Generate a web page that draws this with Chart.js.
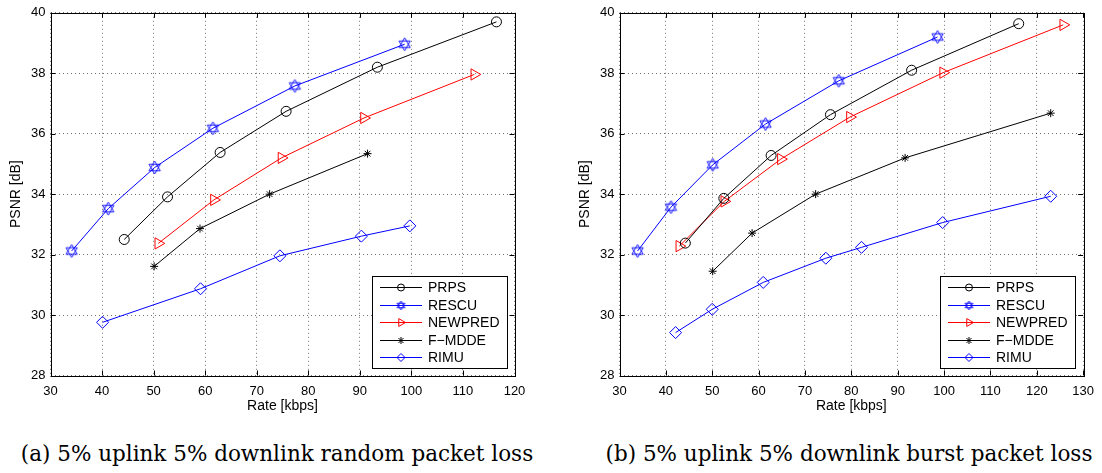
<!DOCTYPE html>
<html>
<head>
<meta charset="utf-8">
<script src="https://cdn.jsdelivr.net/npm/chart.js@4.4.0/dist/chart.umd.min.js"></script>
<style>
  body { margin: 0; width: 1102px; height: 473px; background: #fff; position: relative; overflow: hidden; }
  canvas { position: absolute; top: 0; }
  #chartA { left: 0; }
  #chartB { left: 551px; }
  .caption { position: absolute; top: 441px; width: 560px; text-align: center; white-space: nowrap;
             font-family: "DejaVu Serif", "Liberation Serif", serif; font-size: 21.5px; color: #000; }
</style>
</head>
<body>
<canvas id="chartA" width="551" height="420"></canvas>
<canvas id="chartB" width="551" height="420"></canvas>
<div class="caption" style="left:-3px">(a) 5% uplink 5% downlink random packet loss</div>
<div class="caption" style="left:569px">(b) 5% uplink 5% downlink burst packet loss</div>
<script>
// --- Data: (a) random packet loss ---
const aPrpsRate = [44.3, 52.7, 62.9, 75.7, 93.4, 116.5];
const aPrpsPsnr = [32.5, 33.91, 35.38, 36.74, 38.2, 39.7];
const aRescuRate = [34.1, 41.2, 50.2, 61.5, 77.4, 98.7];
const aRescuPsnr = [32.12, 33.52, 34.88, 36.18, 37.58, 38.96];
const aNewpredRate = [50.9, 61.7, 74.8, 90.8, 112.2];
const aNewpredPsnr = [32.37, 33.81, 35.2, 36.52, 37.96];
const aFmddeRate = [50.1, 59.0, 72.5, 91.5];
const aFmddePsnr = [31.61, 32.86, 34.0, 35.34];
const aRimuRate = [40.1, 59.1, 74.5, 90.3, 99.7];
const aRimuPsnr = [29.76, 30.87, 31.96, 32.61, 32.95];

// --- Data: (b) burst packet loss ---
const bPrpsRate = [44.2, 52.5, 62.7, 75.5, 93.0, 116.1];
const bPrpsPsnr = [32.38, 33.86, 35.28, 36.63, 38.1, 39.64];
const bRescuRate = [33.9, 41.1, 50.1, 61.5, 77.3, 98.6];
const bRescuPsnr = [32.12, 33.57, 34.97, 36.32, 37.75, 39.2];
const bNewpredRate = [42.9, 52.6, 64.8, 79.7, 99.8, 125.7];
const bNewpredPsnr = [32.28, 33.76, 35.16, 36.55, 38.02, 39.6];
const bFmddeRate = [50.1, 58.6, 72.3, 91.6, 123.0];
const bFmddePsnr = [31.45, 32.71, 34.0, 35.2, 36.68];
const bRimuRate = [42.1, 50.0, 61.0, 74.5, 82.2, 99.7, 123.0];
const bRimuPsnr = [29.42, 30.19, 31.08, 31.88, 32.24, 33.06, 33.93];

const seriesNames = ['PRPS', 'RESCU', 'NEWPRED', 'F\u2212MDDE', 'RIMU'];
const yTicks = [28, 30, 32, 34, 36, 38, 40];
const xTicksA = [30, 40, 50, 60, 70, 80, 90, 100, 110, 120];
const xTicksB = [30, 40, 50, 60, 70, 80, 90, 100, 110, 120, 130];

const FONT = '"Liberation Sans", Arial, sans-serif';

// Star of David marker (matlab 'h'-like hexagram)
function makeHexagram(color, r) {
    const size = Math.ceil(r * 2 + 4);
    const c = document.createElement('canvas');
    c.width = c.height = size;
    const g = c.getContext('2d');
    const cx = size / 2, cy = size / 2;
    g.strokeStyle = color;
    g.lineWidth = 0.9;
    [-Math.PI / 2, Math.PI / 2].forEach(start => {
        g.beginPath();
        for (let i = 0; i < 3; i++) {
            const a = start + i * 2 * Math.PI / 3;
            const px = cx + r * Math.cos(a), py = cy + r * Math.sin(a);
            if (i) g.lineTo(px, py); else g.moveTo(px, py);
        }
        g.closePath();
        g.stroke();
    });
    return c;
}
const hexBig = makeHexagram('#0000ff', 6.5);
const hexSmall = makeHexagram('#0000ff', 4.5);

const styles = [
    { color: '#000000', pointStyle: 'circle', radius: 5, legendRadius: 3.5, rotation: 0 },
    { color: '#0000ff', pointStyle: hexBig, radius: 5, legendStyle: hexSmall, rotation: 0 },
    { color: '#ff0000', pointStyle: 'triangle', radius: 6.5, legendRadius: 4.5, rotation: 90 },
    { color: '#000000', pointStyle: 'star', radius: 4, legendRadius: 3.5, rotation: 0 },
    { color: '#0000ff', pointStyle: 'rectRot', radius: 6, legendRadius: 4, rotation: 0 }
];

function toPoints(xs, ys) {
    return xs.map((x, i) => ({ x: x, y: ys[i] }));
}

// frame, inside tick marks and the boxed legend
const matlabAxes = {
    id: 'matlabAxes',
    afterDraw(chart) {
        const { ctx, chartArea: ca, scales } = chart;
        ctx.save();
        ctx.strokeStyle = '#000';
        ctx.lineWidth = 1;
        ctx.strokeRect(Math.round(ca.left) + 0.5, Math.round(ca.top) + 0.5,
            Math.round(ca.right - ca.left), Math.round(ca.bottom - ca.top));
        ctx.beginPath();
        scales.x.ticks.forEach(t => {
            const px = Math.round(scales.x.getPixelForValue(t.value)) + 0.5;
            ctx.moveTo(px, ca.bottom); ctx.lineTo(px, ca.bottom - 5);
            ctx.moveTo(px, ca.top); ctx.lineTo(px, ca.top + 5);
        });
        scales.y.ticks.forEach(t => {
            const py = Math.round(scales.y.getPixelForValue(t.value)) + 0.5;
            ctx.moveTo(ca.left, py); ctx.lineTo(ca.left + 5, py);
            ctx.moveTo(ca.right, py); ctx.lineTo(ca.right - 5, py);
        });
        ctx.stroke();

        // legend box
        const w = 135, h = 92;
        const left = Math.round(ca.right - 8 - w), top = Math.round(ca.bottom - 8 - h);
        ctx.fillStyle = '#fff';
        ctx.fillRect(left, top, w, h);
        ctx.strokeRect(left + 0.5, top + 0.5, w, h);
        ctx.font = '14px ' + FONT;
        ctx.textBaseline = 'middle';
        chart.data.datasets.forEach((ds, i) => {
            const st = styles[i];
            const y = Math.round(top + 11 + i * 17.6) + 0.5;
            ctx.strokeStyle = ds.borderColor;
            ctx.lineWidth = 1;
            ctx.beginPath();
            ctx.moveTo(left + 8, y);
            ctx.lineTo(left + 50, y);
            ctx.stroke();
            ctx.fillStyle = 'rgba(0,0,0,0)';
            Chart.helpers.drawPoint(ctx, {
                pointStyle: st.legendStyle || st.pointStyle,
                radius: st.legendRadius || st.radius,
                rotation: st.rotation,
                borderWidth: 1
            }, left + 29, y);
            ctx.fillStyle = '#000';
            ctx.fillText(ds.label, left + 56, y + 1);
        });
        ctx.restore();
    }
};

function makeChart(canvasId, rates, psnrs, xMax, xTicks, axisWidth, titlePad) {
    const datasets = seriesNames.map((name, i) => ({
        label: name,
        data: toPoints(rates[i], psnrs[i]),
        borderColor: styles[i].color,
        backgroundColor: 'rgba(0,0,0,0)',
        borderWidth: 1,
        pointStyle: styles[i].pointStyle,
        pointRadius: styles[i].radius,
        pointRotation: styles[i].rotation,
        pointBorderColor: styles[i].color,
        pointBackgroundColor: 'rgba(0,0,0,0)',
        pointBorderWidth: 1,
        tension: 0,
        fill: false
    }));

    return new Chart(document.getElementById(canvasId), {
        type: 'line',
        data: { datasets: datasets },
        options: {
            responsive: false,
            animation: false,
            layout: { padding: { left: 0, right: 0, top: 10, bottom: 0 } },
            plugins: { legend: { display: false }, tooltip: { enabled: false } },
            scales: {
                x: {
                    type: 'linear',
                    min: 30,
                    max: xMax,
                    afterBuildTicks: (s) => { s.ticks = xTicks.map(v => ({ value: v })); },
                    afterFit: (s) => { s.height = 44.5; },
                    grid: { color: 'rgba(0,0,0,0.55)', lineWidth: 1, drawTicks: false },
                    border: { display: false, dash: [1, 3] },
                    ticks: { color: '#000', font: { family: FONT, size: 13 }, padding: 8, maxRotation: 0 },
                    title: { display: true, text: 'Rate [kbps]', color: '#000',
                             font: { family: FONT, size: 14 }, padding: { top: 0, bottom: 5.6 } }
                },
                y: {
                    type: 'linear',
                    min: 28,
                    max: 40,
                    afterBuildTicks: (s) => { s.ticks = yTicks.map(v => ({ value: v })); },
                    afterFit: (s) => { s.width = axisWidth; },
                    grid: { color: 'rgba(0,0,0,0.55)', lineWidth: 1, drawTicks: false },
                    border: { display: false, dash: [1, 3] },
                    ticks: { color: '#000', font: { family: FONT, size: 13 }, padding: 5 },
                    title: { display: true, text: 'PSNR [dB]', color: '#000',
                             font: { family: FONT, size: 14 }, padding: { top: titlePad, bottom: 0 } }
                }
            }
        },
        plugins: [matlabAxes]
    });
}

// right padding so the plot box ends where the reference does
function init() {
    const chartA = makeChart('chartA',
        [aPrpsRate, aRescuRate, aNewpredRate, aFmddeRate, aRimuRate],
        [aPrpsPsnr, aRescuPsnr, aNewpredPsnr, aFmddePsnr, aRimuPsnr],
        120, xTicksA, 50.5, 7.6);
    chartA.options.layout.padding.right = 36.5;
    chartA.update();

    const chartB = makeChart('chartB',
        [bPrpsRate, bRescuRate, bNewpredRate, bFmddeRate, bRimuRate],
        [bPrpsPsnr, bRescuPsnr, bNewpredPsnr, bFmddePsnr, bRimuPsnr],
        130, xTicksB, 68.5, 26);
    chartB.options.layout.padding.right = 18.5;
    chartB.update();
}

document.addEventListener('DOMContentLoaded', init);
</script>
</body>
</html>
